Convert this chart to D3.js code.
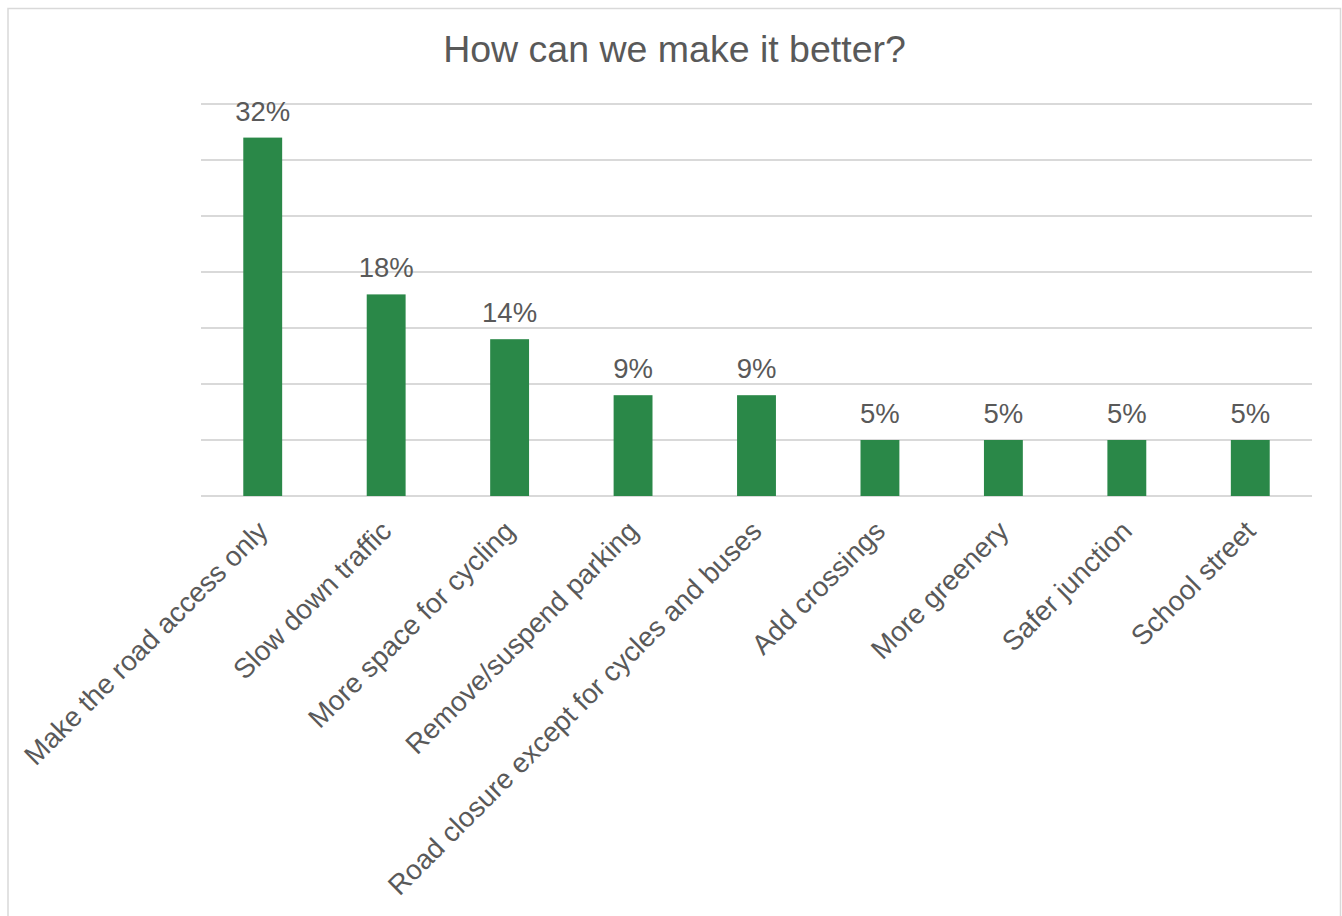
<!DOCTYPE html>
<html>
<head>
<meta charset="utf-8">
<script src="https://cdn.jsdelivr.net/npm/d3@7"></script>
<style>
  html, body { margin: 0; padding: 0; background: #ffffff; }
  svg { display: block; font-family: "Liberation Sans", Arial, sans-serif; }
</style>
</head>
<body>
<svg id="chart" width="1342" height="916"></svg>
<script>
// Survey responses: share of respondents per suggested improvement
const categories = [
  "Make the road access only",
  "Slow down traffic",
  "More space for cycling",
  "Remove/suspend parking",
  "Road closure except for cycles and buses",
  "Add crossings",
  "More greenery",
  "Safer junction",
  "School street"
];
const shares = [32, 18, 14, 9, 9, 5, 5, 5, 5];
const gridTicks = [0, 5, 10, 15, 20, 25, 30, 35];
const chartTitle = "How can we make it better?";

const svg = d3.select("#chart");
const textColor = "#595959";
const barColor = "#2a8848";
const gridColor = "#d9d9d9";

// Outer chart frame
svg.append("rect")
  .attr("x", 8).attr("y", 8.5)
  .attr("width", 1332.5).attr("height", 920)
  .attr("fill", "none")
  .attr("stroke", gridColor)
  .attr("stroke-width", 1.5);

const plot = { left: 201, right: 1312, top: 104, bottom: 496 };

const x = d3.scaleBand()
  .domain(categories)
  .range([plot.left, plot.right])
  .paddingInner(0.685)
  .paddingOuter(0.3425);

const y = d3.scaleLinear()
  .domain([0, 35])
  .range([plot.bottom, plot.top]);

// Horizontal gridlines
svg.append("g")
  .selectAll("line")
  .data(gridTicks)
  .join("line")
  .attr("x1", plot.left)
  .attr("x2", plot.right)
  .attr("y1", d => y(d))
  .attr("y2", d => y(d))
  .attr("stroke", gridColor)
  .attr("stroke-width", 2);

// Bars
svg.append("g")
  .selectAll("rect")
  .data(categories)
  .join("rect")
  .attr("x", d => x(d))
  .attr("width", x.bandwidth())
  .attr("y", (d, i) => y(shares[i]))
  .attr("height", (d, i) => y(0) - y(shares[i]))
  .attr("fill", barColor);

// Value labels above the bars
svg.append("g")
  .selectAll("text")
  .data(categories)
  .join("text")
  .attr("x", d => x(d) + x.bandwidth() / 2)
  .attr("y", (d, i) => y(shares[i]) - 17)
  .attr("text-anchor", "middle")
  .attr("fill", textColor)
  .attr("font-size", 27.5)
  .text((d, i) => shares[i] + "%");

// Category axis labels, rotated
svg.append("g")
  .selectAll("text")
  .data(categories)
  .join("text")
  .attr("transform", d => `translate(${x(d) + x.bandwidth() / 2},${plot.bottom + 30}) rotate(-45)`)
  .attr("text-anchor", "end")
  .attr("dy", "0.35em")
  .attr("fill", textColor)
  .attr("font-size", 27.8)
  .text(d => d);

// Title
svg.append("text")
  .attr("x", 674.5)
  .attr("y", 62)
  .attr("text-anchor", "middle")
  .attr("fill", textColor)
  .attr("font-size", 37.5)
  .text(chartTitle);
</script>
</body>
</html>
